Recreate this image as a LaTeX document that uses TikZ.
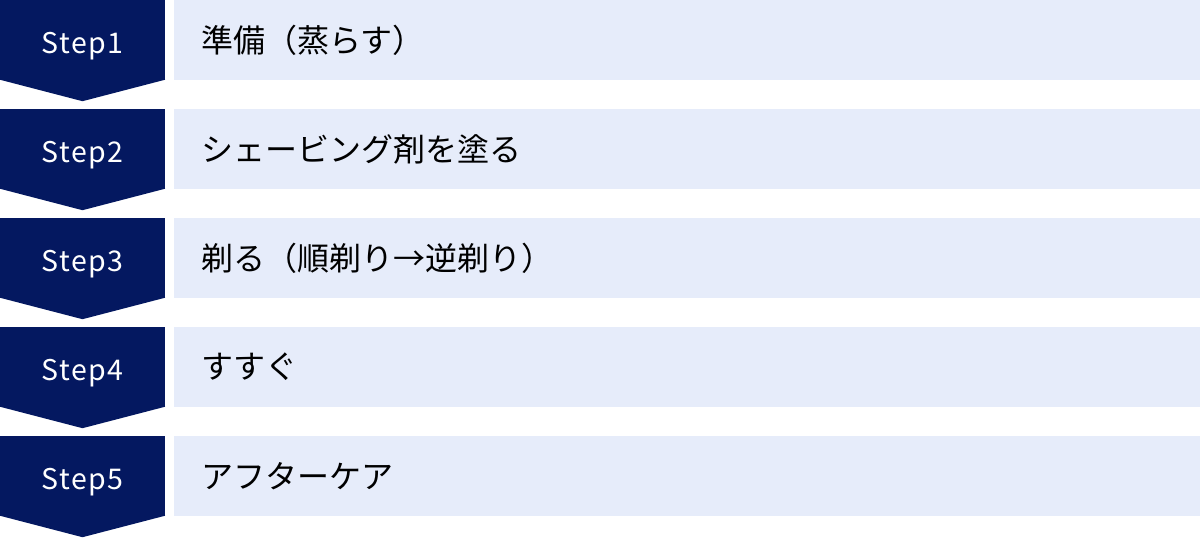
\documentclass[tikz,border=0pt]{standalone}
\usepackage{fontspec}
\setmainfont{Noto Sans CJK JP}
\newfontfamily\jpfont{Noto Sans CJK JP}
\newfontfamily\stepfont[LetterSpace=5]{Noto Sans CJK JP}
\usetikzlibrary{positioning,calc}
\definecolor{navy}{RGB}{4,24,96}
\definecolor{paleblue}{RGB}{230,236,250}
\tikzset{%
    stepbox/.style={%
        fill=navy, text=white, inner sep=0pt,
        minimum width=165pt, minimum height=80pt,
        text height=26pt, text depth=0pt,
        font=\stepfont\fontsize{28.5}{34}\selectfont
    },
    itembox/.style={%
        fill=paleblue, anchor=west, align=left,
        minimum height=80pt, text width=972pt,
        inner xsep=27pt, inner ysep=0pt,
        font=\jpfont\fontsize{32}{38}\selectfont
    }
}
\begin{document}
\begin{tikzpicture}[x=1pt,y=-1pt]
    \useasboundingbox (0,0) rectangle (1200,538);
    \foreach \n/\txt in {1/準備（蒸らす）,2/シェービング剤を塗る,3/剃る（順剃り→逆剃り）,4/すすぐ,5/アフターケア}{
        \node[stepbox] (step\n) at (82.5,{109*(\n-1)+40}) {Step\n};
        \fill[navy] ([yshift=0.5pt]step\n.south west) -- ([yshift=0.5pt]step\n.south east) -- ($(step\n.south)+(0,21)$) -- cycle;
        \node[itembox, right=9pt of step\n] (item\n) {\txt};
    }
\end{tikzpicture}
\end{document}
